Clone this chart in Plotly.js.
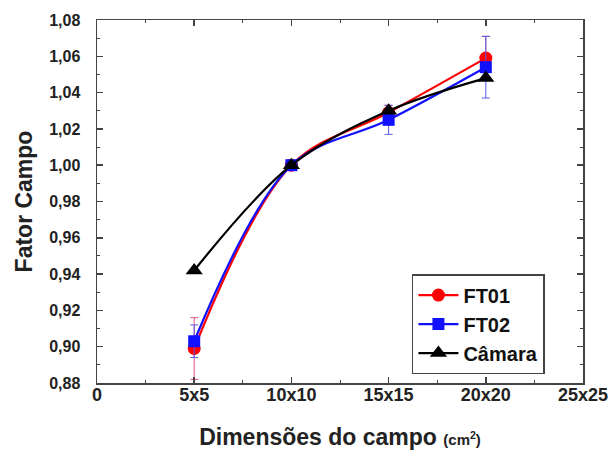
<!DOCTYPE html>
<html>
<head>
<meta charset="utf-8">
<script src="https://cdn.plot.ly/plotly-3.0.1.min.js"></script>
<style>html,body{margin:0;padding:0;background:#fff;}#chart{width:614px;height:451px;}</style>
</head>
<body>
<div id="chart"></div>
<script>
var categories = ['5x5', '10x10', '15x15', '20x20'];
var tickLabels = ['0', '5x5', '10x10', '15x15', '20x20', '25x25'];
var ft01 = [0.899, 1.000, 1.029, 1.059];
var ft01Err = [0.017, 0.002, 0.004, 0.012];
var ft02 = [0.903, 1.000, 1.025, 1.054];
var ft02Err = [0.009, 0.002, 0.008, 0.017];
var camara = [0.942, 1.000, 1.030, 1.048];

var xPos = categories.map(function (c) { return tickLabels.indexOf(c); });
var tickVals = tickLabels.map(function (t, i) { return i; });

var fontFam = 'Liberation Sans, Arial, sans-serif';

var traces = [
  {
    x: xPos, y: ft01, name: 'FT01', type: 'scatter', mode: 'lines+markers',
    line: {color: '#ff0000', width: 2.2, shape: 'spline', smoothing: 1},
    marker: {symbol: 'circle', size: 13, color: '#ff0000'},
    error_y: {type: 'data', array: ft01Err, visible: true, color: '#e0508a', thickness: 1, width: 4}
  },
  {
    x: xPos, y: ft02, name: 'FT02', type: 'scatter', mode: 'lines+markers',
    line: {color: '#1010ff', width: 2.2, shape: 'spline', smoothing: 1},
    marker: {symbol: 'square', size: 12, color: '#1010ff'},
    error_y: {type: 'data', array: ft02Err, visible: true, color: '#5a5ae8', thickness: 1, width: 4}
  },
  {
    x: xPos, y: camara, name: 'Câmara', type: 'scatter', mode: 'lines+markers',
    line: {color: '#000000', width: 2.2, shape: 'spline', smoothing: 1},
    marker: {symbol: 'triangle-up', size: 15, color: '#000000'}
  }
];

var layout = {
  width: 614, height: 451,
  margin: {l: 97, r: 31, t: 20, b: 68},
  paper_bgcolor: '#ffffff', plot_bgcolor: '#ffffff',
  separators: ',.',
  font: {family: fontFam, color: '#222'},
  showlegend: true,
  legend: {
    x: 0.648, y: 0.300, xanchor: 'left', yanchor: 'top',
    bordercolor: '#444', borderwidth: 1.5, bgcolor: '#fff',
    font: {family: fontFam, size: 20, weight: 'bold', color: '#111'},
    itemwidth: 40, tracegroupgap: 0
  },
  xaxis: {
    range: [0, 5], tickvals: tickVals, ticktext: tickLabels,
    showgrid: false, zeroline: false,
    showline: true, linecolor: '#444', linewidth: 1.5, mirror: 'ticks',
    ticks: 'inside', ticklen: 6, tickcolor: '#444', tickwidth: 1.5,
    minor: {dtick: 0.5, ticks: 'inside', ticklen: 3, tickcolor: '#444', tickwidth: 1},
    tickfont: {family: fontFam, size: 18, weight: 'bold', color: '#222'},
    ticklabelstandoff: -5,
    title: {text: 'Dimensões do campo <span style="font-size:15px">(cm<sup>2</sup>)</span>',
            font: {family: fontFam, size: 23, weight: 'bold', color: '#222'}, standoff: 25}
  },
  yaxis: {
    range: [0.88, 1.08], dtick: 0.02, tickformat: '.2f',
    showgrid: false, zeroline: false,
    showline: true, linecolor: '#444', linewidth: 1.5, mirror: 'ticks',
    ticks: 'inside', ticklen: 6, tickcolor: '#444', tickwidth: 1.5,
    minor: {dtick: 0.01, ticks: 'inside', ticklen: 3, tickcolor: '#444', tickwidth: 1},
    tickfont: {family: fontFam, size: 16, weight: 'bold', color: '#222'},
    ticklabelstandoff: 12,
    title: {text: 'Fator Campo', font: {family: fontFam, size: 23, weight: 'bold', color: '#222'}, standoff: 10}
  }
};

Plotly.newPlot('chart', traces, layout, {displayModeBar: false, staticPlot: true});
</script>
</body>
</html>
